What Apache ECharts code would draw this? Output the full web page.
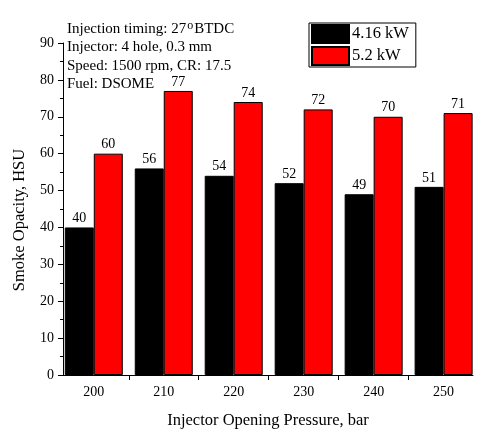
<!DOCTYPE html>
<html><head><meta charset="utf-8">
<script src="https://cdn.jsdelivr.net/npm/echarts@6/dist/echarts.min.js"></script>
<style>html,body{margin:0;padding:0;background:#fff}#c{width:492px;height:446px}</style>
</head><body><div id="c"></div>
<script>
var pressures = [200, 210, 220, 230, 240, 250];
var load416 = [40, 56, 54, 52, 49, 51];
var load52 = [60, 77, 74, 72, 70, 71];
var xTickValues = [205, 215, 225, 235, 245];
var seriesNames = ['4.16 kW', '5.2 kW'];

var font = 'Liberation Serif, Times New Roman, serif';
var chart = echarts.init(document.getElementById('c'));
function pairs(vals){ return pressures.map(function(p,i){ return [p, vals[i]]; }); }
var labelCfg = {show:true, position:'top', distance:2, color:'#000', fontFamily:font, fontSize:14};
chart.setOption({
  animation:false,
  backgroundColor:'#fff',
  grid:{left:63, right:19, top:43, bottom:71},
  legend:{
    orient:'vertical', left:309, top:23, padding:[1,7,1,2],
    borderColor:'#000', borderWidth:1, itemWidth:37, itemHeight:18, itemGap:2,
    icon:'rect',
    textStyle:{fontFamily:font, fontSize:16.5, color:'#000', padding:[0,0,0,-2]},
    data:seriesNames
  },
  xAxis:{
    type:'value', min:195.6, max:254.2,
    name:'Injector Opening Pressure, bar', nameLocation:'middle', nameGap:37,
    nameTextStyle:{fontFamily:font, fontSize:16.5, color:'#000'},
    axisLine:{show:true, lineStyle:{color:'#000', width:1}},
    axisTick:{show:true, length:5, inside:false, customValues:xTickValues, lineStyle:{color:'#000'}},
    axisLabel:{customValues:pressures, fontFamily:font, fontSize:14, color:'#000', margin:10},
    splitLine:{show:false}
  },
  yAxis:{
    type:'value', min:0, max:90, interval:10,
    axisLine:{show:true, lineStyle:{color:'#000', width:1}},
    axisTick:{show:true, length:5, lineStyle:{color:'#000'}},
    minorTick:{show:true, splitNumber:2, length:3, lineStyle:{color:'#000'}},
    axisLabel:{fontFamily:font, fontSize:14, color:'#000', margin:9},
    splitLine:{show:false}
  },
  graphic:[{
    type:'text', left:67, top:20,
    style:{
      text:'{a|Injection timing: 27}{s|o}{a|BTDC}\n{a|Injector: 4 hole, 0.3 mm}\n{a|Speed: 1500 rpm, CR: 17.5}\n{a|Fuel: DSOME}',
      rich:{
        a:{fontFamily:font, fontSize:15, lineHeight:18.3, fill:'#000'},
        s:{fontFamily:font, fontSize:12, lineHeight:8, fill:'#000', verticalAlign:'top', padding:[0,1,0,1]}
      },
      fill:'#000'
    }
  },{
    type:'text', x:20, y:220, rotation:Math.PI/2,
    style:{text:'Smoke Opacity, HSU', fontFamily:font, fontSize:16.5, fill:'#000', align:'center', verticalAlign:'middle'}
  }],
  series:[
    {name:seriesNames[0], type:'bar', data:pairs(load416), barWidth:29, barGap:'0%',
     itemStyle:{color:'#000', borderColor:'#000', borderWidth:1}, label:labelCfg},
    {name:seriesNames[1], type:'bar', data:pairs(load52), barWidth:29, barGap:'0%',
     itemStyle:{color:'#ff0000', borderColor:'#000', borderWidth:1}, label:labelCfg}
  ]
});
</script></body></html>
